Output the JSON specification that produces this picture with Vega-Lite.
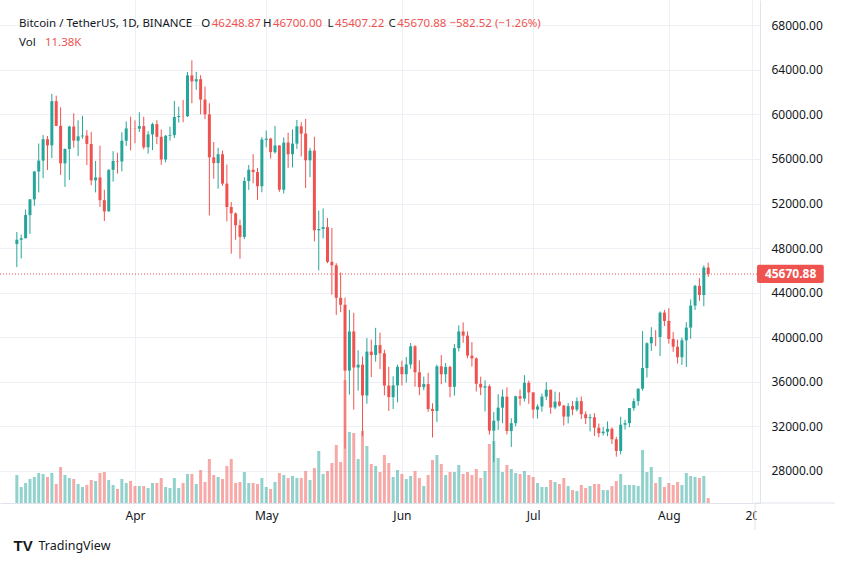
{
  "$schema": "https://vega.github.io/schema/vega-lite/v6.json",
  "width": 760,
  "height": 503,
  "autosize": "none",
  "padding": {"left": 0, "top": 0, "right": 81, "bottom": 61},
  "background": "white",
  "config": {"view": {"stroke": null}, "font": "Noto Sans"},
  "data": {"values": [
    {"d":"2021-03-05","o":48374,"h":49448,"l":46300,"c":48751,"v":64.4},
    {"d":"2021-03-06","o":48746,"h":49200,"l":47070,"c":48882,"v":36.8},
    {"d":"2021-03-07","o":48882,"h":51450,"l":48882,"c":50971,"v":46},
    {"d":"2021-03-08","o":50959,"h":52402,"l":49274,"c":52375,"v":55.2},
    {"d":"2021-03-09","o":52376,"h":54895,"l":51789,"c":54884,"v":59.8},
    {"d":"2021-03-10","o":54875,"h":57387,"l":53005,"c":55851,"v":69},
    {"d":"2021-03-11","o":55852,"h":58150,"l":54269,"c":57773,"v":66.7},
    {"d":"2021-03-12","o":57774,"h":58059,"l":55013,"c":57221,"v":59.8},
    {"d":"2021-03-13","o":57222,"h":61844,"l":56078,"c":61188,"v":69},
    {"d":"2021-03-14","o":61188,"h":61683,"l":58963,"c":58968,"v":43.7},
    {"d":"2021-03-15","o":58977,"h":60633,"l":54568,"c":55605,"v":82.8},
    {"d":"2021-03-16","o":55606,"h":56939,"l":53500,"c":56900,"v":64.4},
    {"d":"2021-03-17","o":56900,"h":58982,"l":54120,"c":58912,"v":57.5},
    {"d":"2021-03-18","o":58913,"h":60100,"l":57023,"c":57648,"v":55.2},
    {"d":"2021-03-19","o":57641,"h":59468,"l":56270,"c":58030,"v":43.7},
    {"d":"2021-03-20","o":58030,"h":59880,"l":57820,"c":58102,"v":36.8},
    {"d":"2021-03-21","o":58100,"h":58589,"l":55450,"c":57351,"v":41.4},
    {"d":"2021-03-22","o":57351,"h":58430,"l":53650,"c":54083,"v":52.9},
    {"d":"2021-03-23","o":54083,"h":55830,"l":53000,"c":54340,"v":50.6},
    {"d":"2021-03-24","o":54342,"h":57200,"l":51700,"c":52303,"v":69},
    {"d":"2021-03-25","o":52303,"h":53237,"l":50427,"c":51293,"v":71.3},
    {"d":"2021-03-26","o":51293,"h":55073,"l":51283,"c":55025,"v":52.9},
    {"d":"2021-03-27","o":55025,"h":56700,"l":53967,"c":55817,"v":41.4},
    {"d":"2021-03-28","o":55817,"h":56559,"l":54691,"c":55777,"v":32.2},
    {"d":"2021-03-29","o":55777,"h":58400,"l":54890,"c":57635,"v":55.2},
    {"d":"2021-03-30","o":57635,"h":59368,"l":57168,"c":58746,"v":46},
    {"d":"2021-03-31","o":58746,"h":59800,"l":56769,"c":58740,"v":50.6},
    {"d":"2021-04-01","o":58740,"h":59462,"l":57413,"c":58720,"v":39.1},
    {"d":"2021-04-02","o":58720,"h":60200,"l":58428,"c":58950,"v":39.1},
    {"d":"2021-04-03","o":58950,"h":59791,"l":56863,"c":57051,"v":39.1},
    {"d":"2021-04-04","o":57051,"h":58493,"l":56478,"c":58202,"v":34.5},
    {"d":"2021-04-05","o":58202,"h":59251,"l":56800,"c":59129,"v":46},
    {"d":"2021-04-06","o":59129,"h":59474,"l":57333,"c":57991,"v":46},
    {"d":"2021-04-07","o":57990,"h":58650,"l":55473,"c":55953,"v":57.5},
    {"d":"2021-04-08","o":55953,"h":58153,"l":55700,"c":58077,"v":36.8},
    {"d":"2021-04-09","o":58077,"h":58894,"l":57654,"c":58142,"v":34.5},
    {"d":"2021-04-10","o":58142,"h":61216,"l":57875,"c":59769,"v":57.5},
    {"d":"2021-04-11","o":59769,"h":60700,"l":59266,"c":59860,"v":34.5},
    {"d":"2021-04-12","o":59860,"h":61300,"l":59300,"c":59840,"v":46},
    {"d":"2021-04-13","o":59840,"h":63800,"l":59760,"c":63503,"v":66.7},
    {"d":"2021-04-14","o":63503,"h":64854,"l":61000,"c":62963,"v":66.7},
    {"d":"2021-04-15","o":62963,"h":63821,"l":62208,"c":63159,"v":43.7},
    {"d":"2021-04-16","o":63159,"h":63520,"l":60000,"c":61334,"v":75.9},
    {"d":"2021-04-17","o":61334,"h":62500,"l":59580,"c":60006,"v":48.3},
    {"d":"2021-04-18","o":60006,"h":61000,"l":50931,"c":56150,"v":101.2},
    {"d":"2021-04-19","o":56150,"h":57526,"l":54221,"c":55633,"v":64.4},
    {"d":"2021-04-20","o":55633,"h":57000,"l":53329,"c":56425,"v":59.8},
    {"d":"2021-04-21","o":56425,"h":56757,"l":53596,"c":53787,"v":55.2},
    {"d":"2021-04-22","o":53787,"h":55500,"l":50400,"c":51690,"v":85.1},
    {"d":"2021-04-23","o":51690,"h":52130,"l":47500,"c":51125,"v":101.2},
    {"d":"2021-04-24","o":51111,"h":51200,"l":48750,"c":50047,"v":46},
    {"d":"2021-04-25","o":50047,"h":50554,"l":47045,"c":49004,"v":48.3},
    {"d":"2021-04-26","o":49004,"h":54356,"l":48817,"c":54021,"v":71.3},
    {"d":"2021-04-27","o":54021,"h":55460,"l":53222,"c":55033,"v":46},
    {"d":"2021-04-28","o":55033,"h":56428,"l":53813,"c":54824,"v":46},
    {"d":"2021-04-29","o":54825,"h":55200,"l":52330,"c":53555,"v":43.7},
    {"d":"2021-04-30","o":53556,"h":57963,"l":53013,"c":57750,"v":57.5},
    {"d":"2021-05-01","o":57714,"h":58550,"l":57050,"c":57828,"v":36.8},
    {"d":"2021-05-02","o":57828,"h":57911,"l":56035,"c":56610,"v":32.2},
    {"d":"2021-05-03","o":56610,"h":58973,"l":56478,"c":57213,"v":48.3},
    {"d":"2021-05-04","o":57214,"h":57214,"l":53046,"c":53241,"v":69},
    {"d":"2021-05-05","o":53241,"h":57939,"l":52900,"c":57473,"v":64.4},
    {"d":"2021-05-06","o":57473,"h":58360,"l":55200,"c":56428,"v":57.5},
    {"d":"2021-05-07","o":56428,"h":58650,"l":55241,"c":57380,"v":62.1},
    {"d":"2021-05-08","o":57380,"h":59500,"l":56900,"c":58928,"v":57.5},
    {"d":"2021-05-09","o":58928,"h":59300,"l":56235,"c":58280,"v":57.5},
    {"d":"2021-05-10","o":58280,"h":59592,"l":53400,"c":55883,"v":73.6},
    {"d":"2021-05-11","o":55883,"h":57000,"l":54370,"c":56750,"v":52.9},
    {"d":"2021-05-12","o":56750,"h":58000,"l":48600,"c":49600,"v":80.5},
    {"d":"2021-05-13","o":49600,"h":51367,"l":46000,"c":49716,"v":119.6},
    {"d":"2021-05-14","o":49716,"h":51560,"l":48870,"c":49880,"v":66.7},
    {"d":"2021-05-15","o":49880,"h":50700,"l":46650,"c":46760,"v":73.6},
    {"d":"2021-05-16","o":46760,"h":49800,"l":43825,"c":46457,"v":92},
    {"d":"2021-05-17","o":46457,"h":46643,"l":42001,"c":43538,"v":133.4},
    {"d":"2021-05-18","o":43538,"h":45800,"l":42250,"c":42910,"v":94.3},
    {"d":"2021-05-19","o":42910,"h":43546,"l":30000,"c":37000,"v":283},
    {"d":"2021-05-20","o":37000,"h":42451,"l":34850,"c":40516,"v":163.3},
    {"d":"2021-05-21","o":40516,"h":42200,"l":33489,"c":37281,"v":161},
    {"d":"2021-05-22","o":37281,"h":38829,"l":35200,"c":37537,"v":101.2},
    {"d":"2021-05-23","o":37537,"h":38270,"l":31111,"c":34770,"v":165.6},
    {"d":"2021-05-24","o":34770,"h":39920,"l":34031,"c":38706,"v":131.1},
    {"d":"2021-05-25","o":38706,"h":39791,"l":36419,"c":38402,"v":89.7},
    {"d":"2021-05-26","o":38402,"h":40841,"l":37800,"c":39294,"v":85.1},
    {"d":"2021-05-27","o":39294,"h":40411,"l":37134,"c":38556,"v":71.3},
    {"d":"2021-05-28","o":38556,"h":38877,"l":34779,"c":35658,"v":110.4},
    {"d":"2021-05-29","o":35658,"h":37338,"l":33380,"c":34623,"v":92},
    {"d":"2021-05-30","o":34623,"h":36488,"l":33555,"c":35679,"v":59.8},
    {"d":"2021-05-31","o":35679,"h":37534,"l":34153,"c":37341,"v":75.9},
    {"d":"2021-06-01","o":37341,"h":37894,"l":35667,"c":36677,"v":66.7},
    {"d":"2021-06-02","o":36677,"h":38225,"l":35920,"c":37555,"v":55.2},
    {"d":"2021-06-03","o":37555,"h":39476,"l":37171,"c":39188,"v":62.1},
    {"d":"2021-06-04","o":39188,"h":39289,"l":35555,"c":36856,"v":73.6},
    {"d":"2021-06-05","o":36856,"h":37922,"l":34800,"c":35520,"v":57.5},
    {"d":"2021-06-06","o":35520,"h":36458,"l":35248,"c":35796,"v":39.1},
    {"d":"2021-06-07","o":35796,"h":36800,"l":33300,"c":33552,"v":64.4},
    {"d":"2021-06-08","o":33556,"h":34068,"l":31000,"c":33380,"v":98.9},
    {"d":"2021-06-09","o":33380,"h":37534,"l":32396,"c":37388,"v":110.4},
    {"d":"2021-06-10","o":37388,"h":38392,"l":35782,"c":36675,"v":89.7},
    {"d":"2021-06-11","o":36677,"h":37680,"l":35936,"c":37331,"v":64.4},
    {"d":"2021-06-12","o":37331,"h":37437,"l":34600,"c":35546,"v":71.3},
    {"d":"2021-06-13","o":35546,"h":39380,"l":34757,"c":39020,"v":71.3},
    {"d":"2021-06-14","o":39020,"h":41064,"l":38730,"c":40516,"v":87.4},
    {"d":"2021-06-15","o":40516,"h":41330,"l":39506,"c":40144,"v":66.7},
    {"d":"2021-06-16","o":40143,"h":40527,"l":38116,"c":38349,"v":71.3},
    {"d":"2021-06-17","o":38349,"h":39559,"l":37365,"c":38092,"v":64.4},
    {"d":"2021-06-18","o":38099,"h":38202,"l":35129,"c":35820,"v":78.2},
    {"d":"2021-06-19","o":35820,"h":36457,"l":34803,"c":35483,"v":57.5},
    {"d":"2021-06-20","o":35483,"h":36137,"l":33336,"c":35600,"v":73.6},
    {"d":"2021-06-21","o":35600,"h":35750,"l":31251,"c":31608,"v":135.7},
    {"d":"2021-06-22","o":31614,"h":33298,"l":28805,"c":32509,"v":142.6},
    {"d":"2021-06-23","o":32510,"h":34881,"l":31683,"c":33678,"v":103.5},
    {"d":"2021-06-24","o":33676,"h":35298,"l":32286,"c":34663,"v":71.3},
    {"d":"2021-06-25","o":34663,"h":35500,"l":31275,"c":31584,"v":87.4},
    {"d":"2021-06-26","o":31577,"h":32730,"l":30151,"c":32283,"v":78.2},
    {"d":"2021-06-27","o":32283,"h":34750,"l":32000,"c":34700,"v":69},
    {"d":"2021-06-28","o":34702,"h":35297,"l":33862,"c":34494,"v":66.7},
    {"d":"2021-06-29","o":34494,"h":36600,"l":34225,"c":35911,"v":73.6},
    {"d":"2021-06-30","o":35911,"h":36100,"l":34017,"c":35045,"v":64.4},
    {"d":"2021-07-01","o":35045,"h":35057,"l":32711,"c":33504,"v":59.8},
    {"d":"2021-07-02","o":33502,"h":33977,"l":32700,"c":33786,"v":46},
    {"d":"2021-07-03","o":33786,"h":34945,"l":33316,"c":34669,"v":36.8},
    {"d":"2021-07-04","o":34669,"h":35967,"l":34357,"c":35286,"v":36.8},
    {"d":"2021-07-05","o":35288,"h":35293,"l":33125,"c":33690,"v":52.9},
    {"d":"2021-07-06","o":33690,"h":35118,"l":33532,"c":34220,"v":48.3},
    {"d":"2021-07-07","o":34220,"h":35059,"l":33777,"c":33863,"v":43.7},
    {"d":"2021-07-08","o":33863,"h":33914,"l":32077,"c":32875,"v":57.5},
    {"d":"2021-07-09","o":32875,"h":34100,"l":32261,"c":33815,"v":39.1},
    {"d":"2021-07-10","o":33815,"h":34262,"l":33004,"c":33502,"v":29.9},
    {"d":"2021-07-11","o":33502,"h":34592,"l":33332,"c":34258,"v":27.6},
    {"d":"2021-07-12","o":34259,"h":34679,"l":32658,"c":33086,"v":41.4},
    {"d":"2021-07-13","o":33086,"h":33340,"l":32202,"c":32729,"v":34.5},
    {"d":"2021-07-14","o":32729,"h":33114,"l":31550,"c":32820,"v":39.1},
    {"d":"2021-07-15","o":32820,"h":33185,"l":31133,"c":31880,"v":43.7},
    {"d":"2021-07-16","o":31874,"h":32249,"l":31020,"c":31383,"v":43.7},
    {"d":"2021-07-17","o":31383,"h":31949,"l":31179,"c":31520,"v":29.9},
    {"d":"2021-07-18","o":31520,"h":32435,"l":31108,"c":31778,"v":29.9},
    {"d":"2021-07-19","o":31778,"h":31899,"l":30408,"c":30839,"v":39.1},
    {"d":"2021-07-20","o":30839,"h":31063,"l":29278,"c":29790,"v":50.6},
    {"d":"2021-07-21","o":29790,"h":32858,"l":29482,"c":32144,"v":66.7},
    {"d":"2021-07-22","o":32144,"h":32591,"l":31708,"c":32287,"v":41.4},
    {"d":"2021-07-23","o":32287,"h":33650,"l":31925,"c":33634,"v":41.4},
    {"d":"2021-07-24","o":33634,"h":34500,"l":33401,"c":34258,"v":41.4},
    {"d":"2021-07-25","o":34261,"h":35398,"l":33851,"c":35381,"v":39.1},
    {"d":"2021-07-26","o":35381,"h":40550,"l":35205,"c":37237,"v":121.9},
    {"d":"2021-07-27","o":37237,"h":39542,"l":36383,"c":39457,"v":71.3},
    {"d":"2021-07-28","o":39456,"h":40900,"l":38772,"c":40019,"v":82.8},
    {"d":"2021-07-29","o":40019,"h":40640,"l":39200,"c":40016,"v":46},
    {"d":"2021-07-30","o":40018,"h":42316,"l":38313,"c":42206,"v":59.8},
    {"d":"2021-07-31","o":42206,"h":42448,"l":41000,"c":41461,"v":36.8},
    {"d":"2021-08-01","o":41461,"h":42599,"l":39422,"c":39845,"v":46},
    {"d":"2021-08-02","o":39850,"h":40459,"l":38690,"c":39147,"v":41.4},
    {"d":"2021-08-03","o":39146,"h":39780,"l":37642,"c":38207,"v":48.3},
    {"d":"2021-08-04","o":38208,"h":39969,"l":37509,"c":39723,"v":41.4},
    {"d":"2021-08-05","o":39723,"h":41350,"l":37332,"c":40862,"v":69},
    {"d":"2021-08-06","o":40865,"h":43392,"l":39853,"c":42836,"v":62.1},
    {"d":"2021-08-07","o":42836,"h":44700,"l":42446,"c":44614,"v":59.8},
    {"d":"2021-08-08","o":44614,"h":45310,"l":43261,"c":43792,"v":57.5},
    {"d":"2021-08-09","o":43792,"h":46454,"l":42779,"c":46253.4,"v":62.1},
    {"d":"2021-08-10","o":46248.87,"h":46700,"l":45407.22,"c":45670.88,"v":11.38}
  ]},
  "layer": [
    {
      "mark": {"type": "bar", "size": 3, "opacity": 0.5},
      "encoding": {
        "x": {"field": "d", "type": "temporal", "title": null,
              "scale": {"type": "utc", "domain": [{"year":2021,"month":3,"date":2,"hours":7,"minutes":3,"utc":true},{"year":2021,"month":8,"date":20,"hours":16,"minutes":45,"utc":true}]},
              "axis": {"values": [{"year":2021,"month":4,"date":1,"utc":true},{"year":2021,"month":5,"date":1,"utc":true},{"year":2021,"month":6,"date":1,"utc":true},{"year":2021,"month":7,"date":1,"utc":true},{"year":2021,"month":8,"date":1,"utc":true},{"year":2021,"month":8,"date":20,"utc":true}],
                       "labelExpr": "utcdate(datum.value) == 1 ? utcFormat(datum.value, '%b') : utcFormat(datum.value, '%-d')",
                       "grid": true, "gridColor": "#eef0f5", "gridWidth": 1, "ticks": false, "title": null,
                       "domain": true, "domainColor": "#e0e3eb", "labelFlush": false, "labelOverlap": false,
                       "labelFont": "Noto Sans", "labelFontSize": 12, "labelColor": "#131722", "labelPadding": 7}},
        "y": {"field": "v", "type": "quantitative", "scale": {"domain": [0, 1157], "nice": false}, "axis": null},
        "color": {"condition": {"test": "datum.c >= datum.o", "value": "#26a69a"}, "value": "#ef5350"}
      }
    },
    {
      "mark": {"type": "rule", "strokeWidth": 1},
      "encoding": {
        "x": {"field": "d", "type": "temporal"},
        "y": {"field": "l", "type": "quantitative", "scale": {"domain": [25118, 70271], "nice": false, "zero": false},
              "axis": {"orient": "right", "values": [28000,32000,36000,40000,44000,48000,52000,56000,60000,64000,68000],
                       "format": ".2f", "grid": true, "gridColor": "#eef0f5", "ticks": false, "domain": true, "domainColor": "#e0e3eb",
                       "labelFont": "Noto Sans", "labelFontSize": 12, "labelColor": "#131722", "labelPadding": 11, "title": null}},
        "y2": {"field": "h"},
        "color": {"condition": {"test": "datum.c >= datum.o", "value": "#26a69a"}, "value": "#ef5350"}
      }
    },
    {
      "mark": {"type": "bar", "size": 3},
      "encoding": {
        "x": {"field": "d", "type": "temporal"},
        "y": {"field": "o", "type": "quantitative", "scale": {"domain": [25118, 70271], "nice": false, "zero": false}, "axis": null},
        "y2": {"field": "c"},
        "color": {"condition": {"test": "datum.c >= datum.o", "value": "#26a69a"}, "value": "#ef5350"}
      }
    },
    {
      "data": {"values": [{}]},
      "mark": {"type": "rule", "strokeDash": [1, 2], "strokeWidth": 1, "color": "#ef5350"},
      "encoding": {
        "y": {"datum": 45670.88, "type": "quantitative", "scale": {"domain": [25118, 70271], "nice": false, "zero": false}, "axis": null}
      }
    },
    {
      "data": {"values": [{}]},
      "mark": {"type": "rect", "color": "white", "clip": false},
      "encoding": {
        "x": {"datum": {"year":2021,"month":8,"date":21,"hours":0,"minutes":52,"utc":true}, "type": "temporal"},
        "x2": {"datum": {"year":2021,"month":9,"date":8,"utc":true}},
        "y": {"datum": 24900, "type": "quantitative", "scale": {"domain": [25118, 70271], "nice": false, "zero": false}, "axis": null},
        "y2": {"datum": 22000}
      }
    },
    {
      "data": {"values": [{}]},
      "mark": {"type": "rule", "color": "#e0e3eb", "strokeWidth": 1, "clip": false},
      "encoding": {
        "x": {"datum": {"year":2021,"month":8,"date":20,"hours":16,"minutes":45,"utc":true}, "type": "temporal"},
        "y": {"datum": 25118, "type": "quantitative", "scale": {"domain": [25118, 70271], "nice": false, "zero": false}, "axis": null},
        "y2": {"datum": 22693}
      }
    },
    {
      "data": {"values": [{}]},
      "mark": {"type": "rule", "color": "#e0e3eb", "strokeWidth": 1, "clip": false},
      "encoding": {
        "x": {"datum": {"year":2021,"month":8,"date":20,"hours":16,"minutes":45,"utc":true}, "type": "temporal"},
        "x2": {"datum": {"year":2021,"month":9,"date":8,"utc":true}},
        "y": {"datum": 25118, "type": "quantitative", "scale": {"domain": [25118, 70271], "nice": false, "zero": false}, "axis": null}
      }
    },
    {
      "data": {"values": [{}]},
      "mark": {"type": "rect", "color": "#ef5350", "cornerRadius": 2, "clip": false},
      "encoding": {
        "x": {"datum": {"year":2021,"month":8,"date":21,"hours":3,"minutes":33,"utc":true}, "type": "temporal"},
        "x2": {"datum": {"year":2021,"month":9,"date":5,"hours":10,"utc":true}},
        "y": {"datum": 46500, "type": "quantitative", "scale": {"domain": [25118, 70271], "nice": false, "zero": false}, "axis": null},
        "y2": {"datum": 44860}
      }
    },
    {
      "data": {"values": [{}]},
      "mark": {"type": "text", "color": "white", "fontWeight": "bold", "font": "Noto Sans", "fontSize": 12, "align": "center", "baseline": "middle", "clip": false},
      "encoding": {
        "x": {"datum": {"year":2021,"month":8,"date":28,"hours":20,"utc":true}, "type": "temporal"},
        "y": {"datum": 45670.88, "type": "quantitative", "scale": {"domain": [25118, 70271], "nice": false, "zero": false}, "axis": null},
        "text": {"value": "45670.88"}
      }
    },
    {
      "data": {"values": [{}]},
      "mark": {"type": "text", "color": "#131722", "font": "Noto Sans", "fontSize": 11.5, "align": "left", "baseline": "middle", "text": "Bitcoin / TetherUS, 1D, BINANCE"},
      "encoding": {
        "x": {"datum": {"year":2021,"month":3,"date":5,"hours":12,"utc":true}, "type": "temporal"},
        "y": {"datum": 68117, "type": "quantitative", "scale": {"domain": [25118, 70271], "nice": false, "zero": false}, "axis": null}
      }
    },
    {
      "data": {"values": [{}]},
      "mark": {"type": "text", "color": "#131722", "font": "Noto Sans", "fontSize": 11.5, "align": "right", "baseline": "middle", "text": "O"},
      "encoding": {
        "x": {"datum": {"year":2021,"month":4,"date":18,"hours":4,"minutes":51,"utc":true}, "type": "temporal"},
        "y": {"datum": 68117, "type": "quantitative", "scale": {"domain": [25118, 70271], "nice": false, "zero": false}, "axis": null}
      }
    },
    {
      "data": {"values": [{}]},
      "mark": {"type": "text", "color": "#ef5350", "font": "Noto Sans", "fontSize": 11.5, "align": "left", "baseline": "middle", "text": "46248.87"},
      "encoding": {
        "x": {"datum": {"year":2021,"month":4,"date":18,"hours":12,"minutes":58,"utc":true}, "type": "temporal"},
        "y": {"datum": 68117, "type": "quantitative", "scale": {"domain": [25118, 70271], "nice": false, "zero": false}, "axis": null}
      }
    },
    {
      "data": {"values": [{}]},
      "mark": {"type": "text", "color": "#131722", "font": "Noto Sans", "fontSize": 11.5, "align": "right", "baseline": "middle", "text": "H"},
      "encoding": {
        "x": {"datum": {"year":2021,"month":5,"date":2,"hours":4,"minutes":27,"utc":true}, "type": "temporal"},
        "y": {"datum": 68117, "type": "quantitative", "scale": {"domain": [25118, 70271], "nice": false, "zero": false}, "axis": null}
      }
    },
    {
      "data": {"values": [{}]},
      "mark": {"type": "text", "color": "#ef5350", "font": "Noto Sans", "fontSize": 11.5, "align": "left", "baseline": "middle", "text": "46700.00"},
      "encoding": {
        "x": {"datum": {"year":2021,"month":5,"date":2,"hours":12,"minutes":34,"utc":true}, "type": "temporal"},
        "y": {"datum": 68117, "type": "quantitative", "scale": {"domain": [25118, 70271], "nice": false, "zero": false}, "axis": null}
      }
    },
    {
      "data": {"values": [{}]},
      "mark": {"type": "text", "color": "#131722", "font": "Noto Sans", "fontSize": 11.5, "align": "right", "baseline": "middle", "text": "L"},
      "encoding": {
        "x": {"datum": {"year":2021,"month":5,"date":16,"hours":9,"minutes":27,"utc":true}, "type": "temporal"},
        "y": {"datum": 68117, "type": "quantitative", "scale": {"domain": [25118, 70271], "nice": false, "zero": false}, "axis": null}
      }
    },
    {
      "data": {"values": [{}]},
      "mark": {"type": "text", "color": "#ef5350", "font": "Noto Sans", "fontSize": 11.5, "align": "left", "baseline": "middle", "text": "45407.22"},
      "encoding": {
        "x": {"datum": {"year":2021,"month":5,"date":16,"hours":17,"minutes":34,"utc":true}, "type": "temporal"},
        "y": {"datum": 68117, "type": "quantitative", "scale": {"domain": [25118, 70271], "nice": false, "zero": false}, "axis": null}
      }
    },
    {
      "data": {"values": [{}]},
      "mark": {"type": "text", "color": "#131722", "font": "Noto Sans", "fontSize": 11.5, "align": "right", "baseline": "middle", "text": "C"},
      "encoding": {
        "x": {"datum": {"year":2021,"month":5,"date":30,"hours":14,"minutes":27,"utc":true}, "type": "temporal"},
        "y": {"datum": 68117, "type": "quantitative", "scale": {"domain": [25118, 70271], "nice": false, "zero": false}, "axis": null}
      }
    },
    {
      "data": {"values": [{}]},
      "mark": {"type": "text", "color": "#ef5350", "font": "Noto Sans", "fontSize": 11.5, "align": "left", "baseline": "middle", "text": "45670.88  −582.52 (−1.26%)"},
      "encoding": {
        "x": {"datum": {"year":2021,"month":5,"date":30,"hours":22,"minutes":34,"utc":true}, "type": "temporal"},
        "y": {"datum": 68117, "type": "quantitative", "scale": {"domain": [25118, 70271], "nice": false, "zero": false}, "axis": null}
      }
    },
    {
      "data": {"values": [{}]},
      "mark": {"type": "text", "color": "#131722", "font": "Noto Sans", "fontSize": 11.5, "align": "left", "baseline": "middle", "text": "Vol"},
      "encoding": {
        "x": {"datum": {"year":2021,"month":3,"date":5,"hours":12,"utc":true}, "type": "temporal"},
        "y": {"datum": 66400, "type": "quantitative", "scale": {"domain": [25118, 70271], "nice": false, "zero": false}, "axis": null}
      }
    },
    {
      "data": {"values": [{}]},
      "mark": {"type": "text", "color": "#ef5350", "font": "Noto Sans", "fontSize": 11.5, "align": "left", "baseline": "middle", "text": "11.38K"},
      "encoding": {
        "x": {"datum": {"year":2021,"month":3,"date":11,"hours":10,"utc":true}, "type": "temporal"},
        "y": {"datum": 66400, "type": "quantitative", "scale": {"domain": [25118, 70271], "nice": false, "zero": false}, "axis": null}
      }
    },
    {
      "data": {"values": [{}]},
      "mark": {"type": "text", "color": "#131722", "font": "Liberation Sans", "fontSize": 15, "fontWeight": "bold", "align": "left", "baseline": "middle", "text": "TV", "clip": false},
      "encoding": {
        "x": {"datum": {"year":2021,"month":3,"date":4,"hours":6,"utc":true}, "type": "temporal"},
        "y": {"datum": 21256, "type": "quantitative", "scale": {"domain": [25118, 70271], "nice": false, "zero": false}, "axis": null}
      }
    },
    {
      "data": {"values": [{}]},
      "mark": {"type": "text", "color": "#131722", "font": "Noto Sans", "fontSize": 12.5, "align": "left", "baseline": "middle", "text": "TradingView", "clip": false},
      "encoding": {
        "x": {"datum": {"year":2021,"month":3,"date":9,"hours":23,"utc":true}, "type": "temporal"},
        "y": {"datum": 21256, "type": "quantitative", "scale": {"domain": [25118, 70271], "nice": false, "zero": false}, "axis": null}
      }
    }
  ],
  "resolve": {"scale": {"y": "independent"}}
}
